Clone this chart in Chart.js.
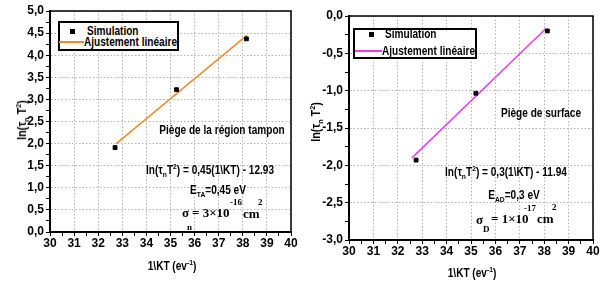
<!DOCTYPE html>
<html><head><meta charset="utf-8">
<script src="https://cdn.jsdelivr.net/npm/chart.js@4/dist/chart.umd.min.js"></script>
<style>
body{margin:0;background:#fff;}
#wrap{position:relative;width:603px;height:282px;overflow:hidden;font-family:"Liberation Sans",Arial,sans-serif;font-weight:bold;font-size:12px;color:#000;}
.abs{position:absolute;white-space:nowrap;line-height:1;}
.c{transform:translate(-50%,-50%) scaleX(0.84);}
.l{transform-origin:left center;transform:translate(0,-50%) scaleX(0.84);}
.ser.l{transform:translate(0,-50%);}
canvas{position:absolute;top:0;}
sub,sup{font-size:8px;line-height:0;}
.ser{font-family:"Liberation Serif","Times New Roman",serif;font-weight:bold;font-size:13px;}
.ser.s{font-size:9px;}
.leg{position:absolute;box-sizing:border-box;border:2px solid #000;background:#fff;}
.rot{transform:translate(-50%,-50%) rotate(-90deg) scaleX(0.9);}
</style></head>
<body>
<div id="wrap">
  <canvas id="c1" width="300" height="282" style="left:0"></canvas>
  <canvas id="c2" width="303" height="282" style="left:300px"></canvas>

  <!-- left chart texts -->
  <div class="leg" style="left:58px;top:21px;width:121px;height:30px"></div>
  <div class="abs" style="left:70px;top:29px;width:5px;height:5px;background:#000"></div>
  <div class="abs l" style="left:87px;top:31px">Simulation</div>
  <div class="abs" style="left:59px;top:41px;width:25px;height:2px;background:#EE8A2E"></div>
  <div class="abs l" style="left:84px;top:42px">Ajustement linéaire</div>
  <div class="abs c" style="left:222px;top:130px">Piège de la région tampon</div>
  <div class="abs c" style="left:210px;top:170px">ln(τ<sub>n</sub>T<sup>2</sup>) = 0,45(1\KT) - 12.93</div>
  <div class="abs c" style="left:218px;top:190px">E<sub>TA</sub>=0,45 eV</div>
  <div class="abs l ser" style="left:182px;top:212px">σ</div>
  <div class="abs l ser s" style="left:187px;top:227px">n</div>
  <div class="abs l ser" style="left:192px;top:212px">= 3×10</div>
  <div class="abs l ser s" style="left:230px;top:202px">-16</div>
  <div class="abs l ser" style="left:243px;top:213px">cm</div>
  <div class="abs l ser s" style="left:258px;top:202px">2</div>
  <div class="abs rot" style="left:22px;top:120px">ln(τ<sub>n</sub> T<sup>2</sup>)</div>
  <div class="abs c" style="left:172px;top:266px">1\KT (ev<sup>-1</sup>)</div>

  <!-- right chart texts -->
  <div class="leg" style="left:353px;top:28px;width:124px;height:31px"></div>
  <div class="abs" style="left:369px;top:32px;width:5px;height:5px;background:#000"></div>
  <div class="abs l" style="left:385px;top:34px">Simulation</div>
  <div class="abs" style="left:355px;top:50px;width:27px;height:2px;background:#E83FE8"></div>
  <div class="abs l" style="left:382px;top:51px">Ajustement linéaire</div>
  <div class="abs c" style="left:541px;top:113px">Piège de surface</div>
  <div class="abs c" style="left:506px;top:172px">ln(τ<sub>n</sub>T<sup>2</sup>) = 0,3(1\KT) - 11.94</div>
  <div class="abs c" style="left:514px;top:195px">E<sub>AD</sub>=0,3 eV</div>
  <div class="abs l ser" style="left:476px;top:219px">σ</div>
  <div class="abs l ser s" style="left:483px;top:229px">D</div>
  <div class="abs l ser" style="left:491px;top:218px">= 1×10</div>
  <div class="abs l ser s" style="left:524px;top:208px">-17</div>
  <div class="abs l ser" style="left:537px;top:218px">cm</div>
  <div class="abs l ser s" style="left:552px;top:207px">2</div>
  <div class="abs rot" style="left:316px;top:122px">ln(τ<sub>n</sub> T<sup>2</sup>)</div>
  <div class="abs c" style="left:472px;top:273px">1\KT (ev<sup>-1</sup>)</div>
</div>
<script>
// ---- data ----
const leftSimX = [32.7, 35.25, 38.15];
const leftSimY = [1.91, 3.22, 4.37];
const leftFitX = [32.75, 38.17];
const leftFitY = [2.0, 4.45];

const rightSimX = [32.75, 35.2, 38.13];
const rightSimY = [-1.93, -1.035, -0.2];
const rightFitX = [32.58, 38.06];
const rightFitY = [-1.9, -0.17];

const xMajorTicks = [30, 31, 32, 33, 34, 35, 36, 37, 38, 39, 40];
const leftYMajorTicks = [0, 0.5, 1, 1.5, 2, 2.5, 3, 3.5, 4, 4.5, 5];
const rightYMajorTicks = [-3, -2.5, -2, -1.5, -1, -0.5, 0];

const pts = (xs, ys) => xs.map((x, i) => ({x: x, y: ys[i]}));
const isIn = (arr, v) => arr.some(t => Math.abs(t - v) < 1e-6);
const fmtY = v => (Math.abs(v) < 1e-9 ? 0 : v).toFixed(1).replace('.', ',');

Chart.defaults.font.family = '"Liberation Sans",Arial,sans-serif';
Chart.defaults.font.weight = 'bold';
Chart.defaults.font.size = 12;
Chart.defaults.color = '#000';
const tickFont = {family: '"Liberation Sans",Arial,sans-serif', size: 12, weight: 'bold'};

const framePlugin = {
  id: 'frame',
  afterDraw(chart) {
    const {ctx, chartArea: a} = chart;
    ctx.save();
    ctx.strokeStyle = '#000';
    ctx.lineWidth = 1.5;
    ctx.strokeRect(a.left, a.top, a.right - a.left, a.bottom - a.top);
    ctx.restore();
  }
};

function makeChart(id, cfg) {
  return new Chart(document.getElementById(id), {
    type: 'scatter',
    data: {datasets: [
      {label: 'Simulation', data: cfg.sim, pointStyle: 'rect', pointRadius: 2.7,
       backgroundColor: '#000', borderColor: '#000', showLine: false, order: 1},
      {label: 'Ajustement linéaire', data: cfg.fit, showLine: true, borderColor: cfg.color,
       borderWidth: 1.5, pointRadius: 0, order: 2}
    ]},
    options: {
      responsive: false, animation: false,
      layout: {padding: {top: cfg.top, right: cfg.right, left: 0, bottom: 0}},
      plugins: {legend: {display: false}, tooltip: {enabled: false}},
      scales: {
        x: {
          type: 'linear', min: 30, max: 40,
          afterFit: s => { s.height = cfg.xh; },
          ticks: {stepSize: 0.5, autoSkip: false, maxRotation: 0, padding: 0, font: tickFont, color: '#000',
                  callback: v => isIn(xMajorTicks, v) ? String(v) : ''},
          grid: {color: c => (c.tick && isIn(xMajorTicks, c.tick.value)) ? '#b4b4b4' : 'rgba(0,0,0,0)',
                 tickColor: '#000', tickLength: 4, lineWidth: 1},
          border: {color: '#000', width: 2, dash: [1.5, 2]}
        },
        y: {
          type: 'linear', min: cfg.ymin, max: cfg.ymax,
          afterFit: s => { s.width = cfg.yw; },
          ticks: {stepSize: 0.25, autoSkip: false, padding: 2, font: tickFont, color: '#000',
                  callback: v => isIn(cfg.yMajor, v) ? fmtY(v) : ''},
          grid: {color: c => (c.tick && isIn(cfg.yMajor, c.tick.value)) ? '#b4b4b4' : 'rgba(0,0,0,0)',
                 tickColor: '#000', tickLength: 4, lineWidth: 1},
          border: {color: '#000', width: 2, dash: [1.5, 2]}
        }
      }
    },
    plugins: [framePlugin]
  });
}

makeChart('c1', {
  sim: pts(leftSimX, leftSimY), fit: pts(leftFitX, leftFitY), color: '#EE8A2E',
  ymin: 0, ymax: 5, yMajor: leftYMajorTicks, top: 11, right: 9, yw: 50, xh: 50
});
makeChart('c2', {
  sim: pts(rightSimX, rightSimY), fit: pts(rightFitX, rightFitY), color: '#E83FE8',
  ymin: -3, ymax: 0, yMajor: rightYMajorTicks, top: 16, right: 10, yw: 49, xh: 42
});
</script>
</body></html>
